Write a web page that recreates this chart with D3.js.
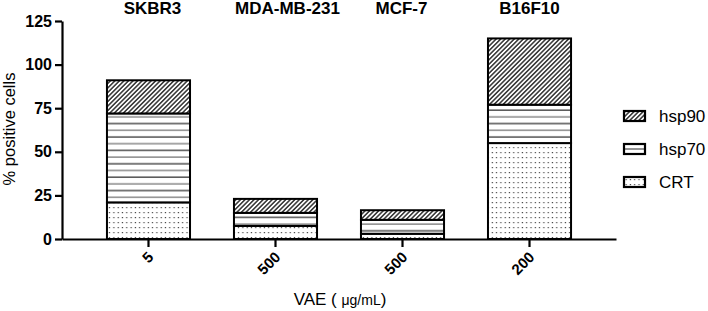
<!DOCTYPE html>
<html>
<head>
<meta charset="utf-8">
<script src="https://cdn.jsdelivr.net/npm/d3@7"></script>
<style>
  body { margin: 0; background: #fff; }
  text { font-family: "Liberation Sans", Arial, sans-serif; }
</style>
</head>
<body>
<svg id="chart" width="708" height="311"></svg>
<script>
// data
let cells = ["SKBR3", "MDA-MB-231", "MCF-7", "B16F10"];
let doses = ["5", "500", "500", "200"];
let crt = [21, 7.5, 3, 55];
let hsp70 = [51, 7.5, 8, 22];
let hsp90 = [19, 8, 5.5, 38];
let yTicks = [0, 25, 50, 75, 100, 125];
let seriesNames = ["CRT", "hsp70", "hsp90"];

// titles in the original are not exactly centred over the bars
let titleNudge = { "SKBR3": 4, "MDA-MB-231": 12, "MCF-7": -1, "B16F10": 0 };

let svg = d3.select("#chart");

// patterns
let defs = svg.append("defs");

let diag = defs.append("pattern")
  .attr("id", "p-hsp90")
  .attr("patternUnits", "userSpaceOnUse")
  .attr("width", 3.2).attr("height", 3.2)
  .attr("patternTransform", "rotate(45)");
diag.append("rect").attr("width", 3.2).attr("height", 3.2).attr("fill", "#fff");
diag.append("line")
  .attr("x1", 0.8).attr("x2", 0.8).attr("y1", 0).attr("y2", 3.2)
  .attr("stroke", "#222").attr("stroke-width", 1.4);

let horiz = defs.append("pattern")
  .attr("id", "p-hsp70")
  .attr("patternUnits", "userSpaceOnUse")
  .attr("width", 10).attr("height", 13.4);
horiz.append("rect").attr("width", 10).attr("height", 13.4).attr("fill", "#fff");
horiz.append("line")
  .attr("x1", 0).attr("x2", 10).attr("y1", 3).attr("y2", 3)
  .attr("stroke", "#333").attr("stroke-width", 1.3);
horiz.append("line")
  .attr("x1", 0).attr("x2", 10).attr("y1", 9.7).attr("y2", 9.7)
  .attr("stroke", "#777").attr("stroke-width", 1.3);

let dots = defs.append("pattern")
  .attr("id", "p-CRT")
  .attr("patternUnits", "userSpaceOnUse")
  .attr("width", 4.3).attr("height", 5);
dots.append("rect").attr("width", 4.3).attr("height", 5).attr("fill", "#fff");
dots.append("rect")
  .attr("x", 1.5).attr("y", 2).attr("width", 1.2).attr("height", 1.2)
  .attr("fill", "#444");

// legend-only version of the stripes: one grey line through the middle
let horizLeg = defs.append("pattern")
  .attr("id", "p-hsp70-leg")
  .attr("patternUnits", "objectBoundingBox")
  .attr("width", 1).attr("height", 1);
horizLeg.append("rect").attr("width", 21).attr("height", 10).attr("fill", "#fff");
horizLeg.append("line")
  .attr("x1", 0).attr("x2", 21).attr("y1", 5).attr("y2", 5)
  .attr("stroke", "#777").attr("stroke-width", 1.6);

// scales
let x = d3.scaleBand()
  .domain(cells)
  .range([62, 616])
  .paddingInner(0.346)
  .paddingOuter(0.354);

let y = d3.scaleLinear()
  .domain([0, 125])
  .range([239, 21]);

// stacked rows
let rows = cells.map((c, i) => ({ cell: c, CRT: crt[i], hsp70: hsp70[i], hsp90: hsp90[i] }));
let stacked = d3.stack().keys(seriesNames)(rows);

let layers = svg.append("g")
  .selectAll("g")
  .data(stacked)
  .join("g")
  .attr("fill", d => `url(#p-${d.key})`);

layers.selectAll("rect")
  .data(d => d)
  .join("rect")
  .attr("x", d => x(d.data.cell))
  .attr("y", d => y(d[1]))
  .attr("width", x.bandwidth())
  .attr("height", d => y(d[0]) - y(d[1]))
  .attr("stroke", "#000")
  .attr("stroke-width", 2);

// axes
let yAxis = d3.axisLeft(y)
  .tickValues(yTicks)
  .tickSize(7)
  .tickSizeOuter(0)
  .tickPadding(3);

let gy = svg.append("g")
  .attr("transform", "translate(62,0)")
  .call(yAxis);

let xAxis = d3.axisBottom(x)
  .tickSize(8)
  .tickSizeOuter(0)
  .tickFormat((d, i) => doses[i]);

let gx = svg.append("g")
  .attr("transform", "translate(0,239)")
  .call(xAxis);

[gx, gy].forEach(g => {
  g.select(".domain").attr("stroke", "#000").attr("stroke-width", 2.2);
  g.selectAll(".tick line").attr("stroke", "#000").attr("stroke-width", 2.2);
  g.selectAll(".tick text")
    .attr("fill", "#000")
    .style("font-size", "16px")
    .style("font-weight", "bold")
    .style("font-family", "'Liberation Sans', Arial, sans-serif");
});

gx.selectAll(".tick text")
  .attr("text-anchor", "end")
  .attr("dy", null)
  .attr("y", null)
  .attr("transform", "translate(6,19) rotate(-45)")
  .style("font-size", "15px");

// category labels on top
svg.append("g")
  .selectAll("text")
  .data(cells)
  .join("text")
  .attr("x", d => x(d) + x.bandwidth() / 2 + titleNudge[d])
  .attr("y", 14)
  .attr("text-anchor", "middle")
  .style("font-size", "17px")
  .style("font-weight", "bold")
  .text(d => d);

// axis titles
svg.append("text")
  .attr("transform", "translate(15,129) rotate(-90)")
  .attr("text-anchor", "middle")
  .style("font-size", "16.5px")
  .text("% positive cells");

let xt = svg.append("text")
  .attr("x", 340)
  .attr("y", 305)
  .attr("text-anchor", "middle")
  .style("font-size", "17px");
xt.append("tspan").text("VAE ( ");
xt.append("tspan").style("font-size", "14px").text("μg/mL");
xt.append("tspan").text(")");

// legend
let legendKeys = ["hsp90", "hsp70", "CRT"];
let legend = svg.append("g")
  .selectAll("g")
  .data(legendKeys)
  .join("g")
  .attr("transform", (d, i) => `translate(624,${116 + i * 33})`);

legend.append("rect")
  .attr("x", 0).attr("y", -5)
  .attr("width", 21).attr("height", 10)
  .attr("fill", d => d === "hsp70" ? "url(#p-hsp70-leg)" : `url(#p-${d})`)
  .attr("stroke", "#000")
  .attr("stroke-width", 2.2);

legend.append("text")
  .attr("x", 35)
  .attr("y", 6)
  .style("font-size", "17px")
  .text(d => d);
</script>
</body>
</html>
